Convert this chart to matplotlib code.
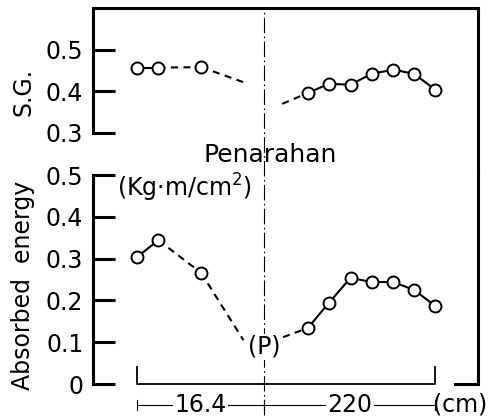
import numpy as np
import matplotlib
matplotlib.use('Agg')
import matplotlib.pyplot as plt

plt.rcParams['font.family'] = 'DejaVu Sans'
plt.rcParams['mathtext.default'] = 'regular'

# specimen lengths (cm)
left_len = 16.4
right_len = 22.0
spec_len = left_len + right_len

# specific gravity
sg_left_x = [0.0, 2.75, 8.25]
sg_left_y = [0.457, 0.457, 0.458]
sg_left_tail_x = [8.25, 14.3]
sg_left_tail_y = [0.458, 0.418]
sg_right_x = [22.0, 24.7, 27.5, 30.2, 33.0, 35.7, 38.4]
sg_right_y = [0.396, 0.418, 0.416, 0.442, 0.452, 0.442, 0.404]
sg_right_head_x = [18.7, 22.0]
sg_right_head_y = [0.370, 0.396]

# absorbed energy (Kg.m/cm2)
ae_left_x = [0.0, 2.75, 8.25]
ae_left_y = [0.304, 0.344, 0.266]
ae_left_tail_x = [8.25, 13.7]
ae_left_tail_y = [0.266, 0.105]
ae_right_x = [22.0, 24.7, 27.5, 30.2, 33.0, 35.7, 38.4]
ae_right_y = [0.134, 0.194, 0.254, 0.244, 0.244, 0.225, 0.187]
ae_right_head_x = [18.8, 22.0]
ae_right_head_y = [0.112, 0.134]

sg_ticks = [0.3, 0.4, 0.5]
ae_ticks = [0, 0.1, 0.2, 0.3, 0.4, 0.5]

fs = 17
xlim = (-5.67, 43.94)
mk = dict(marker='o', ms=8.6, mfc='white', mec='black', mew=1.4, color='black', lw=1.5)
dash = (0, (3.4, 2.6))

fig = plt.figure(figsize=(4.95, 4.19), dpi=100)
ax1 = fig.add_axes([0.188, 0.6826, 0.778, 0.2983])
ax2 = fig.add_axes([0.188, 0.0835, 0.778, 0.4988])

for ax in (ax1, ax2):
    ax.set_facecolor('none')
    ax.set_xlim(xlim)
    ax.set_xticks([])
    ax.tick_params(axis='y', direction='in', length=15.8, width=2.2, pad=7, labelsize=fs)
    for s in ax.spines.values():
        s.set_linewidth(2.2)

# top panel
ax1.set_ylim(0.3, 0.6)
ax1.set_yticks(sg_ticks)
ax1.set_yticklabels(['0.3', '0.4', '0.5'])
ax1.spines['bottom'].set_visible(False)
ax1.spines['right'].set_bounds(0.2, 0.6)
ax1.plot(sg_left_x[:2], sg_left_y[:2], '-', color='black', lw=1.5)
ax1.plot(sg_left_x[1:], sg_left_y[1:], linestyle=dash, color='black', lw=1.5)
ax1.plot(sg_left_tail_x, sg_left_tail_y, linestyle=dash, color='black', lw=1.5)
ax1.plot(sg_right_head_x, sg_right_head_y, linestyle=dash, color='black', lw=1.5)
ax1.plot(sg_right_x, sg_right_y, **mk)
ax1.plot(sg_left_x, sg_left_y, linestyle='none', marker='o', ms=8.6, mfc='white', mec='black', mew=1.4)
ax1.set_ylabel('S.G.', fontsize=fs)
ax1.yaxis.set_label_coords(-0.15, 0.33)

# bottom panel
ax2.set_ylim(0, 0.5)
ax2.set_yticks(ae_ticks)
ax2.set_yticklabels(['0', '0.1', '0.2', '0.3', '0.4', '0.5'])
ax2.spines['top'].set_visible(False)
ax2.spines['bottom'].set_bounds(41.0, xlim[1])
ax2.plot(ae_left_x[:2], ae_left_y[:2], '-', color='black', lw=1.5)
ax2.plot(ae_left_x[1:], ae_left_y[1:], linestyle=dash, color='black', lw=1.5)
ax2.plot(ae_left_tail_x, ae_left_tail_y, linestyle=dash, color='black', lw=1.5)
ax2.plot(ae_right_head_x, ae_right_head_y, linestyle=dash, color='black', lw=1.5)
ax2.plot(ae_right_x, ae_right_y, **mk)
ax2.plot(ae_left_x, ae_left_y, linestyle='none', marker='o', ms=8.6, mfc='white', mec='black', mew=1.4)
ax2.set_ylabel('Absorbed  energy', fontsize=fs)
ax2.yaxis.set_label_coords(-0.15, 0.47)

# specimen outline on the base line
ax2.plot([0, 0, spec_len, spec_len], [0.04, 0, 0, 0.04], color='black', lw=1.3, clip_on=False)

# centre (P) line
ax2.axvline(left_len, ymin=-0.148, ymax=1.8, color='black', lw=0.8,
            linestyle=(0, (14, 3, 1.5, 3)), clip_on=False)
ax2.text(left_len, 0.089, '(P)', fontsize=fs, ha='center', va='center',
         bbox=dict(fc='white', ec='none', pad=0.5))

# dimension line
dim_y = -0.05
ax2.plot([0, spec_len], [dim_y, dim_y], color='black', lw=0.8, clip_on=False)
for xv in [0, left_len, spec_len]:
    ax2.plot([xv, xv], [dim_y - 0.012, dim_y + 0.012], color='black', lw=0.8, clip_on=False)
ax2.text(left_len / 2, dim_y, '16.4', fontsize=fs, ha='center', va='center',
         bbox=dict(fc='white', ec='none', pad=1))
ax2.text(left_len + right_len / 2, dim_y, '220', fontsize=fs, ha='center', va='center',
         bbox=dict(fc='white', ec='none', pad=1))
ax2.text(spec_len - 0.3, dim_y, '(cm)', fontsize=fs, ha='left', va='center')

ax2.text(0.062, 0.895, '(Kg·m/cm$^{2}$)', transform=ax2.transAxes, fontsize=fs,
         ha='left', va='baseline')
fig.text(270 / 495, 1 - 155 / 419, 'Penarahan', fontsize=fs + 1, ha='center', va='center')

fig.savefig('out.png', dpi=100)
